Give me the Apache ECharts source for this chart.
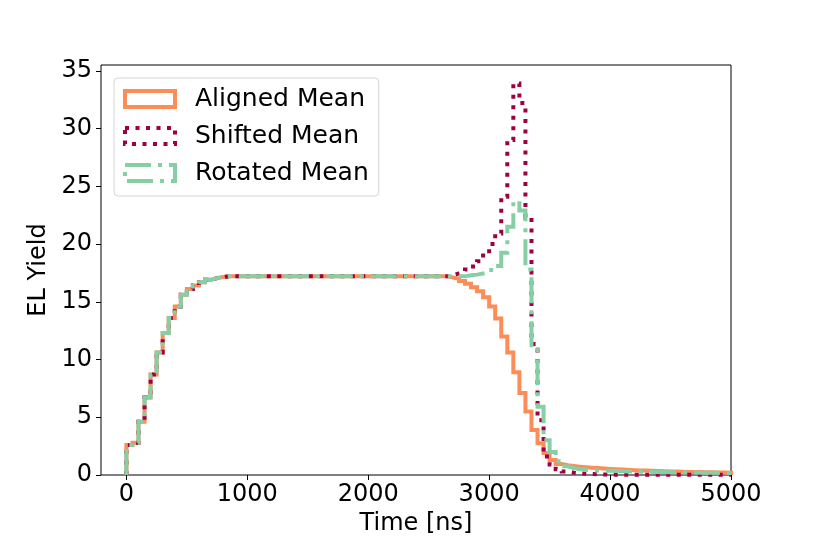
<!DOCTYPE html>
<html>
<head>
<meta charset="utf-8">
<script src="https://cdn.jsdelivr.net/npm/echarts@6/dist/echarts.min.js"></script>
<style>
  html, body { margin: 0; padding: 0; background: #fff; }
  #chart { width: 813px; height: 542px; }
</style>
</head>
<body>
<div id="chart"></div>
<script>
// histogram bins: 50 ns wide, left edges 0 .. 4950
const binWidth = 50;
const binCount = 100;
const xTicks = [0, 1000, 2000, 3000, 4000, 5000];
const yTicks = [0, 5, 10, 15, 20, 25, 30, 35];

const alignedMean = [
  2.6, 2.8, 4.6, 6.7, 8.7, 10.6, 12.3, 13.6, 14.6, 15.6,
  16.1, 16.4, 16.7, 16.9, 17.05, 17.15, 17.2, 17.2, 17.2, 17.2,
  17.2, 17.2, 17.2, 17.2, 17.2, 17.2, 17.2, 17.2, 17.2, 17.2,
  17.2, 17.2, 17.2, 17.2, 17.2, 17.2, 17.2, 17.2, 17.2, 17.2,
  17.2, 17.2, 17.2, 17.2, 17.2, 17.2, 17.2, 17.2, 17.2, 17.2,
  17.2, 17.2, 17.2, 17.1, 17.0, 16.8, 16.55, 16.25, 15.9, 15.4,
  14.6, 13.55, 12.0, 10.6, 8.9, 7.1, 5.5, 3.9, 2.75, 1.9,
  1.3, 0.95, 0.85, 0.78, 0.72, 0.67, 0.63, 0.6, 0.56, 0.53,
  0.5, 0.47, 0.45, 0.42, 0.4, 0.38, 0.36, 0.34, 0.33, 0.31,
  0.3, 0.28, 0.27, 0.26, 0.25, 0.24, 0.23, 0.22, 0.21, 0.2
];

const shiftedMean = [
  2.6, 2.8, 4.6, 6.7, 8.7, 10.6, 12.3, 13.6, 14.6, 15.6,
  16.1, 16.4, 16.7, 16.9, 17.05, 17.15, 17.2, 17.2, 17.2, 17.2,
  17.2, 17.2, 17.2, 17.2, 17.2, 17.2, 17.2, 17.2, 17.2, 17.2,
  17.2, 17.2, 17.2, 17.2, 17.2, 17.2, 17.2, 17.2, 17.2, 17.2,
  17.2, 17.2, 17.2, 17.2, 17.2, 17.2, 17.2, 17.2, 17.2, 17.2,
  17.2, 17.2, 17.2, 17.3, 17.45, 17.6, 17.8, 18.05, 18.5, 19.2,
  20.0, 20.9, 24.1, 29.0, 33.9, 32.2, 22.3, 11.35, 4.75, 1.6,
  0.9, 0.5, 0.3, 0.2, 0.15, 0.1, 0.08, 0.06, 0.05, 0.04,
  0.03, 0.03, 0.03, 0.03, 0.03, 0.02, 0.02, 0.02, 0.02, 0.02,
  0.02, 0.02, 0.02, 0.02, 0.02, 0.02, 0.02, 0.02, 0.02, 0.02
];

const rotatedMean = [
  2.6, 2.8, 4.6, 6.7, 8.7, 10.6, 12.3, 13.6, 14.6, 15.6,
  16.1, 16.4, 16.7, 16.9, 17.05, 17.15, 17.2, 17.2, 17.2, 17.2,
  17.2, 17.2, 17.2, 17.2, 17.2, 17.2, 17.2, 17.2, 17.2, 17.2,
  17.2, 17.2, 17.2, 17.2, 17.2, 17.2, 17.2, 17.2, 17.2, 17.2,
  17.2, 17.2, 17.2, 17.2, 17.2, 17.2, 17.2, 17.2, 17.2, 17.2,
  17.2, 17.2, 17.2, 17.2, 17.2, 17.2, 17.3, 17.35, 17.45, 17.55,
  17.75, 18.1, 19.25, 21.5, 23.7, 22.9, 17.8, 10.9, 5.9, 3.0,
  2.0, 1.2, 0.75, 0.6, 0.5, 0.45, 0.42, 0.4, 0.38, 0.36,
  0.34, 0.32, 0.31, 0.3, 0.29, 0.28, 0.27, 0.26, 0.25, 0.24,
  0.23, 0.22, 0.21, 0.21, 0.2, 0.2, 0.19, 0.19, 0.18, 0.18
];

const seriesNames = ['Aligned Mean', 'Shifted Mean', 'Rotated Mean'];
const seriesColors = ['#fc8d59', '#9e0142', '#86cfa5'];
const seriesDash = ['solid', [4, 6.5], [26, 7, 4, 7]];

const font = 'DejaVu Sans';

// turn bin heights into an outline like a step histogram
function toSteps(values) {
  const pts = [[0, 0]];
  for (let i = 0; i < binCount; i++) {
    pts.push([i * binWidth, values[i]]);
  }
  pts.push([binCount * binWidth, values[binCount - 1]]);
  pts.push([binCount * binWidth, 0]);
  return pts;
}

const allValues = [alignedMean, shiftedMean, rotatedMean];

const chart = echarts.init(document.getElementById('chart'), null, { renderer: 'canvas' });

const option = {
  animation: false,
  backgroundColor: '#fff',
  textStyle: { fontFamily: font, color: '#000' },
  grid: {
    left: 101, right: 82, top: 65, bottom: 67,
    show: true, borderColor: '#000', borderWidth: 1, backgroundColor: 'transparent'
  },
  legend: {
    orient: 'vertical',
    left: 114, top: 78,
    padding: [7, 10, 9, 9],
    itemGap: 9,
    itemWidth: 50,
    itemHeight: 16,
    backgroundColor: 'rgba(255,255,255,0.8)',
    borderColor: '#d4d4d4',
    borderWidth: 1,
    borderRadius: 4,
    textStyle: { fontFamily: font, fontSize: 25, color: '#000', lineHeight: 28, padding: [0, 0, 0, 15] },
    data: seriesNames.map((name, i) => ({
      name: name,
      icon: 'rect',
      itemStyle: {
        color: 'rgba(0,0,0,0)',
        borderColor: seriesColors[i],
        borderWidth: 4,
        borderType: seriesDash[i]
      }
    }))
  },
  xAxis: {
    type: 'value',
    min: -210, max: 5000,
    name: 'Time [ns]',
    nameLocation: 'middle',
    nameGap: 33,
    nameTextStyle: { fontFamily: font, fontSize: 24, color: '#000' },
    axisLine: { show: false, onZero: false },
    splitLine: { show: false },
    axisTick: { show: true, inside: false, length: 5, customValues: xTicks, lineStyle: { color: '#000', width: 1 } },
    axisLabel: { customValues: xTicks, formatter: v => String(v), fontFamily: font, fontSize: 24, color: '#000', margin: 8 }
  },
  yAxis: {
    type: 'value',
    min: 0, max: 35.5,
    name: 'EL Yield',
    nameLocation: 'middle',
    nameGap: 38,
    nameTextStyle: { fontFamily: font, fontSize: 24, color: '#000' },
    axisLine: { show: false, onZero: false },
    splitLine: { show: false },
    axisTick: { show: true, inside: false, length: 5, customValues: yTicks, lineStyle: { color: '#000', width: 1 } },
    axisLabel: { customValues: yTicks, formatter: v => String(v), fontFamily: font, fontSize: 24, color: '#000', margin: 9, padding: [3, 0, 0, 0] }
  },
  series: seriesNames.map((name, i) => ({
    name: name,
    type: 'line',
    step: 'end',
    showSymbol: false,
    symbol: 'none',
    data: toSteps(allValues[i]),
    lineStyle: { color: seriesColors[i], width: 4, type: seriesDash[i], cap: 'butt', join: 'miter' },
    itemStyle: { color: seriesColors[i] }
  }))
};

chart.setOption(option);
</script>
</body>
</html>
